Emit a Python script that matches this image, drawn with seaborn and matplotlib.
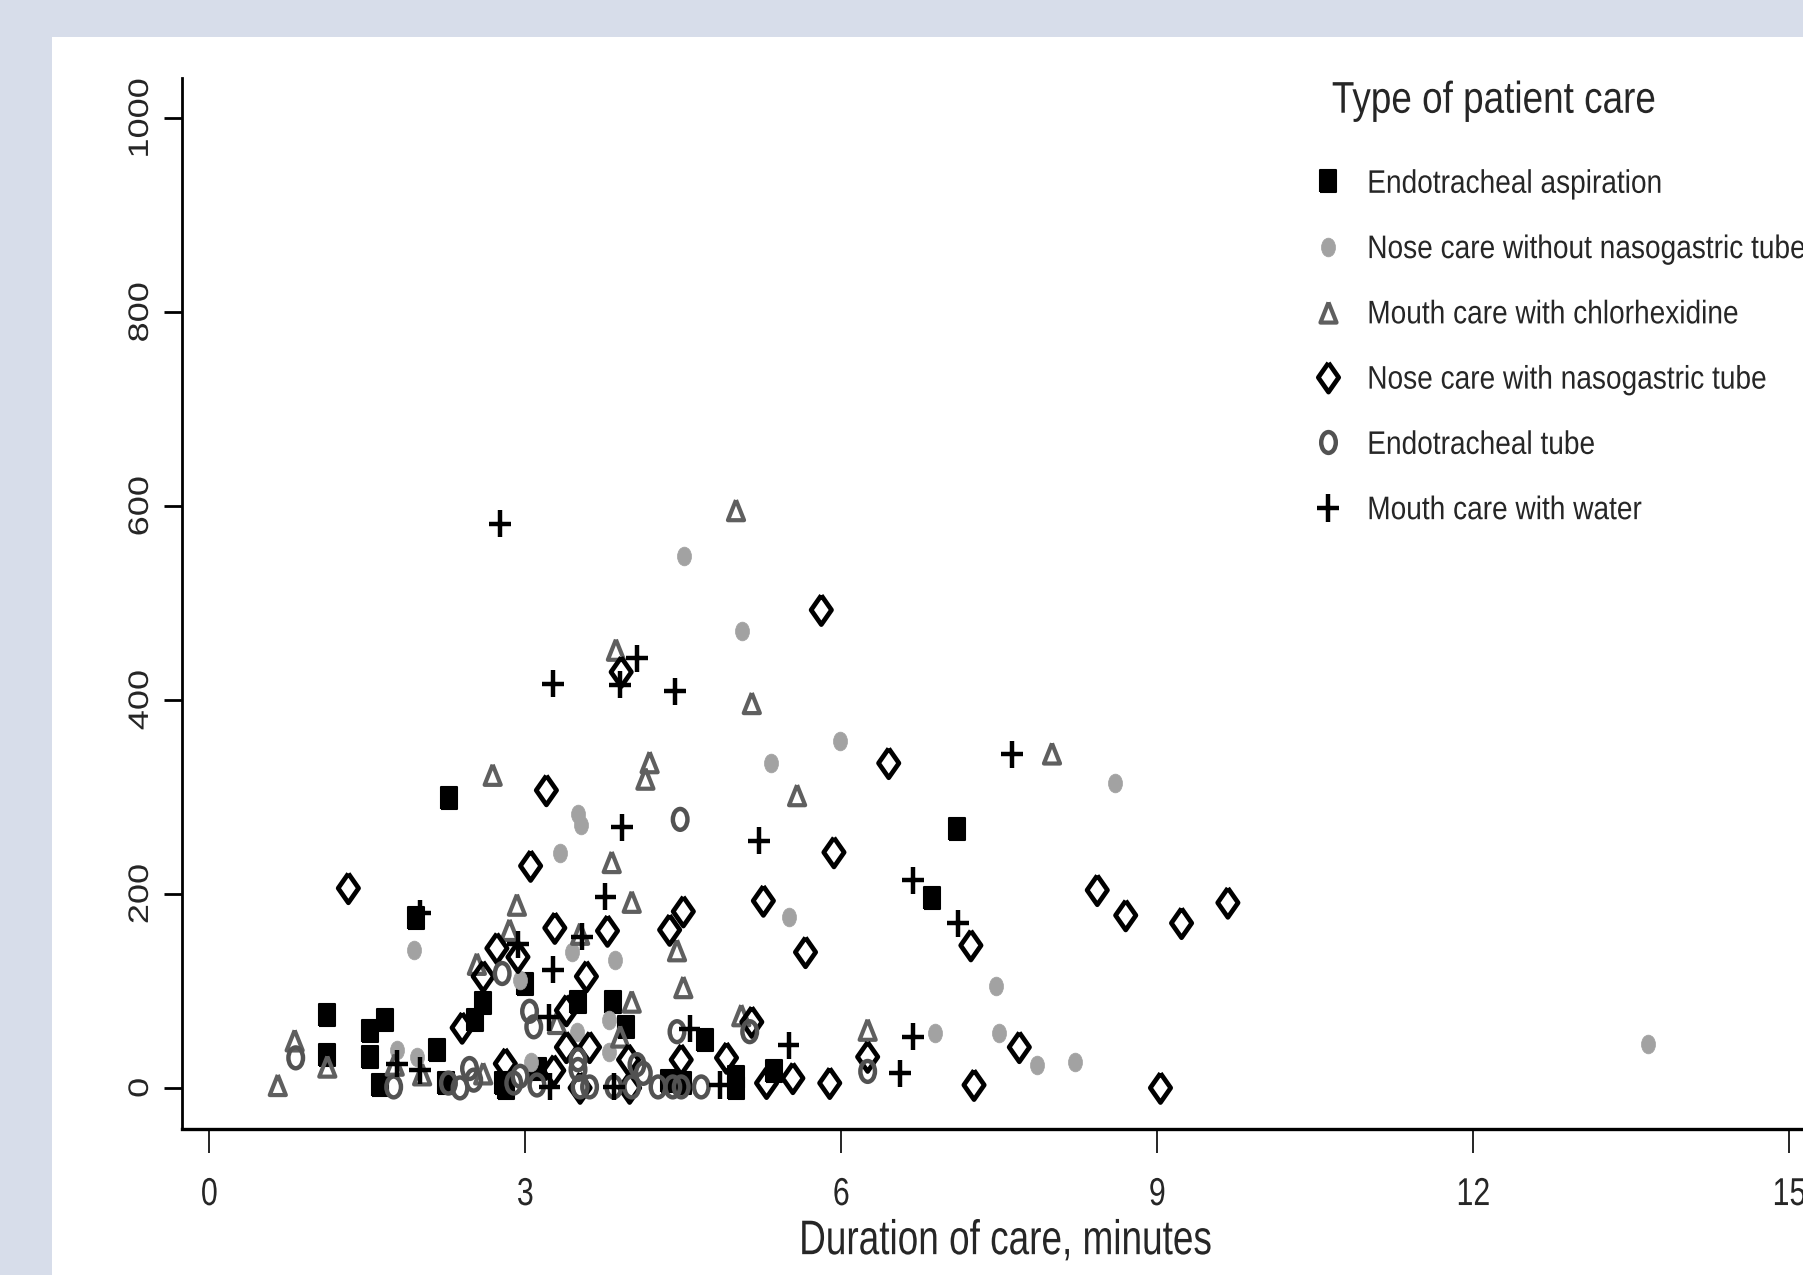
import numpy as np
import pandas as pd
import seaborn as sns
import matplotlib.pyplot as plt
from matplotlib.path import Path
from matplotlib.lines import Line2D
from matplotlib.patches import Rectangle
from matplotlib.patheffects import AbstractPathEffect
from matplotlib.transforms import Affine2D

# values (duration in minutes, y value)
care_types = ["Endotracheal aspiration", "Nose care without nasogastric tube",
              "Mouth care with chlorhexidine", "Nose care with nasogastric tube",
              "Endotracheal tube", "Mouth care with water"]

asp_x = [1.12, 1.12, 1.53, 1.53, 1.67, 1.62, 1.96, 2.16, 2.28, 2.25, 2.52, 2.60, 2.79, 2.82,
         3.00, 3.12, 3.50, 3.83, 3.96, 4.36, 4.50, 4.71, 5.00, 5.00, 5.36, 6.86, 7.10]
asp_y = [75, 34, 59, 32, 70, 3, 175, 39, 299, 5, 70, 88, 5, 0,
         107, 20, 89, 89, 63, 7, 5, 49, 11, 0, 17, 196, 267]

nose_x = [4.51, 5.06, 5.99, 5.33, 8.60, 3.50, 3.53, 3.33, 5.50, 1.94, 3.44, 3.85, 7.47,
          3.79, 6.89, 7.50, 7.86, 8.22, 13.66, 1.78, 1.97, 2.95, 3.49, 3.79, 3.05]
nose_y = [549, 471, 358, 335, 315, 283, 271, 242, 176, 142, 140, 132, 105,
          70, 57, 57, 24, 27, 45, 39, 32, 111, 58, 37, 27]

chx_x = [5.00, 3.86, 5.15, 8.00, 4.18, 4.14, 2.69, 5.58, 3.82, 4.01, 2.92, 2.85, 2.54, 3.52,
         4.44, 4.50, 4.01, 3.30, 3.90, 5.05, 6.25, 0.65, 0.81, 1.12, 1.76, 2.02, 2.60]
chx_y = [596, 452, 397, 345, 336, 319, 323, 302, 233, 192, 189, 163, 128, 159,
         142, 104, 89, 67, 53, 75, 60, 3, 49, 22, 24, 14, 15]

ng_x = [5.81, 3.91, 3.20, 6.45, 5.93, 3.05, 1.32, 8.43, 8.70, 9.67, 9.23, 5.26, 4.50, 4.37,
        3.78, 3.28, 5.66, 7.23, 3.58, 2.73, 2.60, 2.93, 2.40, 7.69, 5.15, 4.91, 4.48, 3.98,
        3.61, 3.39, 3.39, 2.81, 3.27, 5.54, 5.29, 5.89, 7.26, 9.03, 3.52, 3.99, 6.25]
ng_y = [493, 429, 307, 335, 243, 229, 206, 204, 178, 191, 170, 193, 182, 163,
        162, 165, 140, 147, 115, 144, 115, 135, 62, 42, 68, 31, 29, 29,
        42, 42, 80, 25, 18, 10, 5, 5, 3, 0, 0, 0, 32]

tube_x = [4.47, 4.44, 5.13, 3.04, 3.08, 2.78, 0.82, 1.75, 2.27, 2.38, 2.47, 2.51, 2.89, 2.95,
          3.50, 3.50, 4.06, 4.12, 3.11, 3.52, 3.61, 3.84, 4.01, 4.26, 4.40, 4.48, 4.67, 6.25]
tube_y = [277, 58, 58, 79, 63, 118, 31, 1, 5, 0, 20, 8, 5, 12,
          29, 19, 24, 15, 3, 1, 1, 1, 1, 1, 1, 1, 1, 17]

water_x = [2.76, 3.26, 4.06, 3.90, 4.42, 7.62, 3.92, 5.22, 6.68, 3.76, 7.11, 2.00, 3.54,
           2.93, 3.26, 3.22, 4.56, 5.50, 6.68, 6.56, 4.85, 1.78, 2.00, 3.23, 3.84]
water_y = [582, 417, 443, 416, 409, 344, 269, 255, 214, 197, 170, 180, 156,
           148, 122, 73, 61, 44, 53, 15, 3, 25, 18, 1, 1]

x_ticks = [0, 3, 6, 9, 12, 15]
y_ticks = [0, 200, 400, 600, 800, 1000]

groups = [(asp_x, asp_y), (nose_x, nose_y), (chx_x, chx_y),
          (ng_x, ng_y), (tube_x, tube_y), (water_x, water_y)]
df = pd.concat([pd.DataFrame({"duration": gx, "value": gy, "care": name})
                for name, (gx, gy) in zip(care_types, groups)], ignore_index=True)


class Narrow(AbstractPathEffect):
    """Squeeze text sideways - the source picture uses a condensed face."""

    def __init__(self, sx, anchor="left"):
        super().__init__()
        self.sx = sx
        self.anchor = anchor

    def draw_path(self, renderer, gc, tpath, affine, rgbFace=None):
        ext = affine.transform_path(tpath).get_extents()
        x0 = ext.x0 if self.anchor == "left" else 0.5 * (ext.x0 + ext.x1)
        squeeze = Affine2D().translate(-x0, 0).scale(self.sx, 1).translate(x0, 0)
        renderer.draw_path(gc, tpath, affine + squeeze, rgbFace)


# markers are narrower than tall in the source too
def shape(verts, codes=None, sx=0.72):
    return Path(np.asarray(verts, float) * [sx, 1.0], codes)


circ = Path.unit_circle()
square = shape([(-.5, -.5), (.5, -.5), (.5, .5), (-.5, .5), (-.5, -.5)])
dot = Path(circ.vertices * [0.5 * 0.75, 0.5], circ.codes)
ring = Path(circ.vertices * [0.5 * 0.7, 0.5], circ.codes)
tri = shape([(0, .5), (.5, -.5), (-.5, -.5), (0, .5)], sx=0.8)
diamond = shape([(0, .5), (.5, 0), (0, -.5), (-.5, 0), (0, .5)], sx=0.7)
plus = shape([(-.5, 0), (.5, 0), (0, -.5), (0, .5)],
             [Path.MOVETO, Path.LINETO, Path.MOVETO, Path.LINETO], sx=0.8)

styles = {
    "Endotracheal aspiration": dict(marker=square, size=16.5, fc="black", ec="black", lw=1.5),
    "Nose care without nasogastric tube": dict(marker=dot, size=13.5, fc="#a2a2a2", ec="#a2a2a2", lw=0.5),
    "Mouth care with chlorhexidine": dict(marker=tri, size=14.5, fc="none", ec="#5f5f5f", lw=3.0),
    "Nose care with nasogastric tube": dict(marker=diamond, size=21, fc="none", ec="black", lw=3.4),
    "Endotracheal tube": dict(marker=ring, size=15, fc="none", ec="#525252", lw=3.2),
    "Mouth care with water": dict(marker=plus, size=19.5, fc="none", ec="black", lw=3.2),
}

sns.set_style("ticks")
plt.rcParams["font.family"] = ["Liberation Sans", "DejaVu Sans"]

fig = plt.figure(figsize=(18.03, 12.75), dpi=100, facecolor="#d7ddea")
fig.patches.append(Rectangle((0.0288, 0), 1.0, 0.971, transform=fig.transFigure,
                             facecolor="white", edgecolor="none", zorder=-5))
ax = fig.add_axes([0.1008, 0.1142, 0.8992, 0.8245])
ax.set_facecolor("none")

for name in care_types:
    st = styles[name]
    sub = df[df["care"] == name]
    sns.scatterplot(data=sub, x="duration", y="value", ax=ax, legend=False,
                    marker=st["marker"], s=st["size"] ** 2, color=st["ec"],
                    facecolor=st["fc"], edgecolor=st["ec"], linewidth=st["lw"],
                    clip_on=False, zorder=3)

ax.set_xlim(-0.262, 15.13)
ax.set_ylim(-42.8, 1041.6)
ax.set_xticks(x_ticks)
ax.set_yticks(y_ticks)
ax.set_xticklabels([str(t) for t in x_ticks], fontsize=28)
ax.set_yticklabels([str(t) for t in y_ticks], fontsize=26, rotation=90, va="center")
ax.tick_params(axis="x", length=17.3, width=1.2, pad=17, color="black")
ax.tick_params(axis="y", length=12.7, width=2.0, pad=3.9, color="black")
for lab in ax.get_xticklabels():
    lab.set_path_effects([Narrow(0.78, "center")])
for lab in ax.get_yticklabels():
    lab.set_path_effects([Narrow(0.78, "center")])

sns.despine(ax=ax)
ax.spines["left"].set_linewidth(2.0)
ax.spines["bottom"].set_linewidth(2.4)
ax.spines["left"].set_color("black")
ax.spines["bottom"].set_color("black")

ax.set_ylabel("")
ax.set_xlabel("Duration of care, minutes", fontsize=35)
ax.xaxis.set_label_coords(0.508, -0.1068)
ax.xaxis.label.set_va("center")
ax.xaxis.label.set_path_effects([Narrow(0.76, "center")])

# legend: title as its own text, entries below it
title = fig.text(0.7386, 0.9206, "Type of patient care", fontsize=32, ha="left", va="center")
title.set_path_effects([Narrow(0.83, "left")])

handles = [Line2D([], [], linestyle="none", marker=styles[n]["marker"],
                  markersize=styles[n]["size"], markerfacecolor=styles[n]["fc"],
                  markeredgecolor=styles[n]["ec"], markeredgewidth=styles[n]["lw"])
           for n in care_types]
leg = ax.legend(handles, care_types, loc="upper left",
                bbox_to_anchor=(0.7277, 0.8676), bbox_transform=fig.transFigure,
                frameon=False, fontsize=23.5, handlelength=0.98, handletextpad=0.7,
                labelspacing=1.05, borderaxespad=0, borderpad=0)
for t in leg.get_texts():
    t.set_path_effects([Narrow(0.86, "left")])

fig.savefig("out.png", dpi=100, facecolor=fig.get_facecolor())
